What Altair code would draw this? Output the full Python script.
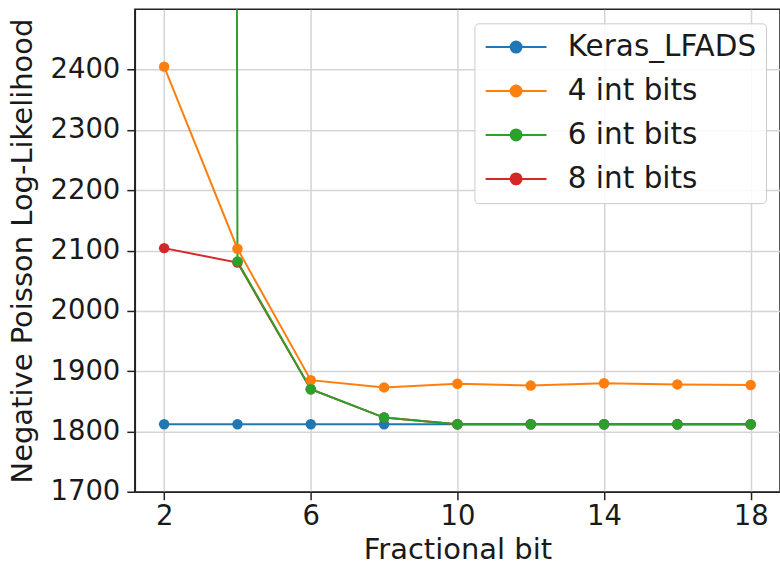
import altair as alt
import pandas as pd

# ---- data ----
fractional_bits = [2, 4, 6, 8, 10, 12, 14, 16, 18]
series_names = ["Keras_LFADS", "4 int bits", "6 int bits", "8 int bits"]
keras_lfads = [1812, 1812, 1812, 1812, 1812, 1812, 1812, 1812, 1812]
int4_bits = [2405, 2103, 1885, 1873, 1879, 1876, 1880, 1878, 1877]
int6_bits = [60000, 2082, 1870, 1823, 1812, 1812, 1812, 1812, 1812]  # first value far off the top
int8_bits = [2104, 2080, 1870, 1823, 1812, 1812, 1812, 1812, 1812]
series_colors = ["#1f77b4", "#ff7f0e", "#2ca02c", "#d62728"]
x_ticks = [2, 6, 10, 14, 18]
y_ticks = [1700, 1800, 1900, 2000, 2100, 2200, 2300, 2400]

values = dict(zip(series_names, [keras_lfads, int4_bits, int6_bits, int8_bits]))
draw_order = ["Keras_LFADS", "8 int bits", "4 int bits", "6 int bits"]
rows = []
for s in draw_order:
    for x, y in zip(fractional_bits, values[s]):
        rows.append({"bit": x, "nll": y, "series": s})
df = pd.DataFrame(rows)

FONT = "DejaVu Sans"

x_enc = alt.X(
    "bit:Q",
    scale=alt.Scale(domain=[1.2, 18.8], nice=False, zero=False),
    axis=alt.Axis(values=x_ticks, title="Fractional bit", format="d", labelPadding=3),
)
y_enc = alt.Y(
    "nll:Q",
    scale=alt.Scale(domain=[1700, 2500], nice=False, zero=False),
    axis=alt.Axis(values=y_ticks, title="Negative Poisson Log-Likelihood", format="d", labelPadding=7),
)
# legend handle: a short line with a dot in its middle (matplotlib style)
legend_path = "M-2.5,0L2.5,0M-0.45,0A0.45,0.45,0,1,0,0.45,0A0.45,0.45,0,1,0,-0.45,0Z"
color_enc = alt.Color(
    "series:N",
    scale=alt.Scale(domain=series_names, range=series_colors),
    legend=alt.Legend(
        title=None,
        orient="top-right",
        offset=14,
        symbolType=legend_path,
        symbolSize=595,
        symbolStrokeWidth=2,
        symbolOpacity=1,
        symbolOffset=18,
        labelFont=FONT,
        labelFontSize=29.5,
        labelColor="#1a1a1a",
        labelOffset=37,
        labelLimit=400,
        rowPadding=13,
        padding=9,
        strokeColor="#cccccc",
        cornerRadius=4,
        fillColor="rgba(255,255,255,0.85)",
    ),
)

base = alt.Chart(df)
lines = base.mark_line(strokeWidth=2, clip=True).encode(
    x=x_enc, y=y_enc, color=color_enc, order="bit:Q"
)
points = base.mark_point(filled=True, size=110, opacity=1, clip=True).encode(
    x=x_enc, y=y_enc, color=color_enc
)

chart = (
    alt.layer(lines, points)
    .properties(
        width=646,
        height=483,
        autosize=alt.AutoSizeParams(type="none"),
        padding={"left": 135, "top": 9, "right": 0, "bottom": 73},
    )
    .configure_view(stroke="#222222", strokeWidth=1.5)
    .configure_axis(
        labelFont=FONT,
        titleFont=FONT,
        labelFontSize=27.5,
        titleFontSize=29,
        titleFontWeight="normal",
        labelColor="#1a1a1a",
        titleColor="#1a1a1a",
        domainColor="#222222",
        domainWidth=1.5,
        tickColor="#222222",
        tickSize=8,
        tickWidth=1.5,
        gridColor="#d4d4d4",
        gridWidth=1.5,
    )
    .configure_axisX(titlePadding=5)
    .configure_axisY(titlePadding=12)
)

chart.save("out.html", embed_options={"renderer": "svg", "actions": False})
